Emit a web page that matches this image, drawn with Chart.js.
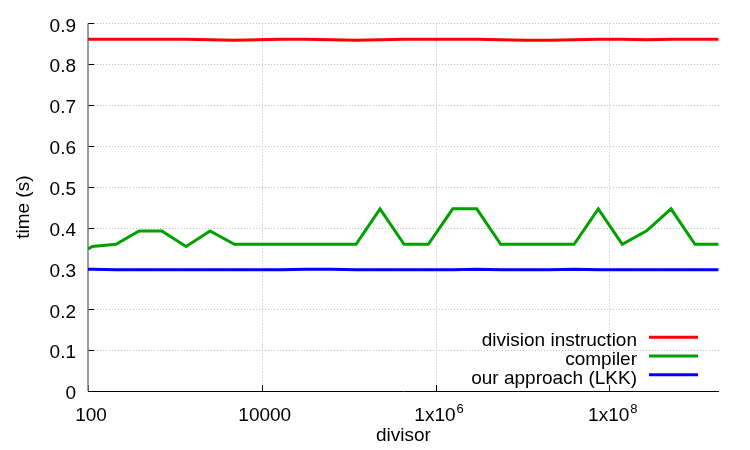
<!DOCTYPE html>
<html>
<head>
<meta charset="utf-8">
<script src="https://cdn.jsdelivr.net/npm/chart.js@4/dist/chart.umd.min.js"></script>
<style>
  html, body { margin: 0; padding: 0; background: #fff; }
  #chart { display: block; }
</style>
</head>
<body>
<canvas id="chart" width="750" height="450"></canvas>
<script>
// divisors (x, log scale)
const divisors = [100, 112, 210, 387, 707, 1345, 2541, 4840, 9065, 17130, 32340, 62700,
  121700, 229700, 434300, 826100, 1578000, 2980000, 5630000, 10700000, 20200000,
  39300000, 74700000, 141000000, 269000000, 513000000, 968000000, 1800000000];

// time (s)
const divisionInstruction = [0.861, 0.861, 0.861, 0.861, 0.861, 0.861, 0.860, 0.859, 0.860, 0.861,
  0.861, 0.860, 0.859, 0.860, 0.861, 0.861, 0.861, 0.861, 0.860, 0.859, 0.859, 0.860, 0.861,
  0.861, 0.860, 0.861, 0.861, 0.861];
const compiler = [0.348, 0.354, 0.359, 0.392, 0.392, 0.354, 0.392, 0.359, 0.359, 0.359, 0.359,
  0.359, 0.359, 0.446, 0.359, 0.359, 0.446, 0.446, 0.359, 0.359, 0.359, 0.359, 0.446, 0.359,
  0.392, 0.446, 0.359, 0.359];
const ourApproach = [0.298, 0.298, 0.297, 0.297, 0.297, 0.297, 0.297, 0.297, 0.297, 0.297, 0.298,
  0.298, 0.297, 0.297, 0.297, 0.297, 0.297, 0.298, 0.297, 0.297, 0.297, 0.298, 0.297, 0.297,
  0.297, 0.297, 0.297, 0.297];

const seriesNames = ['division instruction', 'compiler', 'our approach (LKK)'];
const seriesColors = ['#ff0000', '#00a000', '#0000ff'];

const xMin = 100;
const xMax = 1.83e9;
const xTicks = [100, 1e4, 1e6, 1e8];
const xTickLabels = ['100', '10000', '1x10^6', '1x10^8'];   // ^ = superscript
const yTicks = [0, 0.1, 0.2, 0.3, 0.4, 0.5, 0.6, 0.7, 0.8, 0.9];
const yTickLabels = ['0', '0.1', '0.2', '0.3', '0.4', '0.5', '0.6', '0.7', '0.8', '0.9'];

const FONT = '"Liberation Sans", Arial, Helvetica, sans-serif';
const FS = 19;

const toPoints = ys => divisors.map((d, i) => ({ x: d, y: ys[i] }));

// gnuplot-ish frame: dotted grid, inward ticks, left/bottom axis lines
const frame = {
  id: 'frame',
  beforeDatasetsDraw(chart) {
    const { ctx, chartArea: a, scales: { x, y } } = chart;
    ctx.save();
    ctx.lineWidth = 1;
    ctx.strokeStyle = '#c0c0c0';
    ctx.setLineDash([1, 2]);
    ctx.beginPath();
    yTicks.forEach(v => {
      if (v === 0) return;
      const py = Math.round(y.getPixelForValue(v)) + 0.5;
      ctx.moveTo(a.left, py);
      ctx.lineTo(a.right, py);
    });
    xTicks.forEach(v => {
      if (v === xMin) return;
      const px = Math.round(x.getPixelForValue(v)) + 0.5;
      ctx.moveTo(px, a.top);
      ctx.lineTo(px, a.bottom);
    });
    ctx.stroke();
    ctx.setLineDash([]);

    ctx.strokeStyle = '#000';
    ctx.beginPath();
    yTicks.forEach(v => {
      const py = Math.round(y.getPixelForValue(v)) + 0.5;
      ctx.moveTo(a.left, py);
      ctx.lineTo(a.left + 6, py);
    });
    xTicks.forEach(v => {
      const px = Math.round(x.getPixelForValue(v)) + 0.5;
      ctx.moveTo(px, a.bottom);
      ctx.lineTo(px, a.bottom - 6);
    });
    ctx.stroke();

    // axis lines
    ctx.beginPath();
    ctx.moveTo(a.left, Math.round(a.bottom) + 0.5);
    ctx.lineTo(a.right, Math.round(a.bottom) + 0.5);
    ctx.stroke();
    ctx.strokeStyle = '#7a7a7a';
    ctx.lineWidth = 1.5;
    ctx.beginPath();
    ctx.moveTo(a.left, a.top);
    ctx.lineTo(a.left, a.bottom);
    ctx.stroke();
    ctx.restore();
  },
  afterDatasetsDraw(chart) {
    const { ctx, chartArea: a, scales: { x } } = chart;
    ctx.save();
    ctx.fillStyle = '#000';
    ctx.textBaseline = 'alphabetic';

    // x tick labels with real superscripts
    xTickLabels.forEach((lab, i) => {
      const [base, exp] = lab.split('^');
      ctx.font = FS + 'px ' + FONT;
      const wb = ctx.measureText(base).width;
      ctx.font = Math.round(FS * 0.7) + 'px ' + FONT;
      const we = exp ? ctx.measureText(exp).width : 0;
      const cx = x.getPixelForValue(xTicks[i]) + 3;
      const left = cx - (wb + we) / 2;
      const baseY = a.bottom + 30;
      ctx.textAlign = 'left';
      ctx.font = FS + 'px ' + FONT;
      ctx.fillText(base, left, baseY);
      if (exp) {
        ctx.font = Math.round(FS * 0.7) + 'px ' + FONT;
        ctx.fillText(exp, left + wb + 1, baseY - 8);
      }
    });

    // key in the lower right, text left of the sample line
    const sets = chart.data.datasets;
    ctx.font = FS + 'px ' + FONT;
    ctx.textAlign = 'right';
    sets.forEach((ds, i) => {
      const rowY = a.bottom - 16.3 - (sets.length - 1 - i) * 18.7;
      ctx.fillText(ds.label, a.right - 82, rowY + 9);
      ctx.strokeStyle = ds.borderColor;
      ctx.lineWidth = 3;
      ctx.beginPath();
      ctx.moveTo(a.right - 70, rowY);
      ctx.lineTo(a.right - 21, rowY);
      ctx.stroke();
    });
    ctx.restore();
  }
};

new Chart(document.getElementById('chart').getContext('2d'), {
  type: 'line',
  data: {
    datasets: [divisionInstruction, compiler, ourApproach].map((ys, i) => ({
      label: seriesNames[i],
      data: toPoints(ys),
      borderColor: seriesColors[i],
      backgroundColor: seriesColors[i],
      borderWidth: 3,
      pointRadius: 0,
      tension: 0,
      fill: false
    }))
  },
  options: {
    responsive: false,
    animation: false,
    devicePixelRatio: 1,
    layout: { padding: { left: 0, top: 20, right: 31, bottom: 0 } },
    plugins: {
      legend: { display: false },
      tooltip: { enabled: false }
    },
    scales: {
      x: {
        type: 'logarithmic',
        min: xMin,
        max: xMax,
        afterBuildTicks: s => { s.ticks = xTicks.map(v => ({ value: v })); },
        afterFit: s => { s.height = 59; },
        grid: { display: false, drawTicks: false },
        border: { display: false },
        ticks: { display: false },
        title: {
          display: true,
          text: 'divisor',
          color: '#000',
          font: { family: FONT, size: FS },
          padding: { top: 0, bottom: 3 }
        }
      },
      y: {
        min: 0,
        max: 0.9,
        afterBuildTicks: s => { s.ticks = yTicks.map(v => ({ value: v })); },
        afterFit: s => { s.width = 88; },
        grid: { display: false, drawTicks: false },
        border: { display: false },
        ticks: {
          padding: 12,
          labelOffset: 3,
          color: '#000',
          font: { family: FONT, size: FS },
          callback: (v, i) => yTickLabels[i]
        },
        title: {
          display: true,
          text: 'time (s)',
          color: '#000',
          font: { family: FONT, size: FS },
          padding: { top: 12, bottom: 0 }
        }
      }
    }
  },
  plugins: [frame]
});
</script>
</body>
</html>
